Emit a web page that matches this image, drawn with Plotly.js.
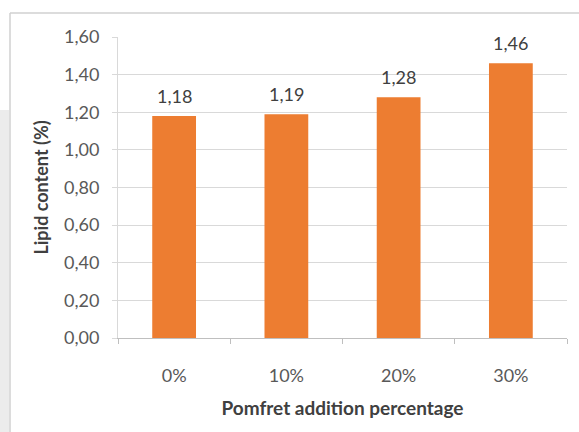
<!DOCTYPE html>
<html>
<head>
<meta charset="utf-8">
<script src="https://cdn.plot.ly/plotly-3.0.1.min.js"></script>
<style>
  html, body { margin: 0; padding: 0; background: #ffffff; }
  #chart { width: 579px; height: 432px; }
</style>
</head>
<body>
<div id="chart"></div>
<script>
// Lipid content of the product for each pomfret addition level
const categories = ['0%', '10%', '20%', '30%'];
const lipidValues = [1.18, 1.19, 1.28, 1.46];
const yTickValues = [0, 0.2, 0.4, 0.6, 0.8, 1.0, 1.2, 1.4, 1.6];

const W = 579, H = 432;
const M = { l: 118, r: 12, t: 37, b: 94 };
const pw = W - M.l - M.r, ph = H - M.t - M.b;
// convert pixel positions to paper coordinates for the outer frame
const px = x => (x - M.l) / pw;
const py = y => (H - M.b - y) / ph;

const FONT = 'Lato, "Liberation Sans", sans-serif';
const fmt = v => v.toFixed(2).replace('.', ',');

const trace = {
  type: 'bar',
  x: categories,
  y: lipidValues,
  marker: { color: '#ED7D31', line: { width: 0 } },
  hoverinfo: 'none'
};

// value labels above each bar
const valueLabels = categories.map((c, i) => ({
  x: c,
  y: lipidValues[i],
  xref: 'x', yref: 'y',
  text: fmt(lipidValues[i]),
  showarrow: false,
  yanchor: 'bottom',
  yshift: 7,
  font: { family: FONT, size: 18, color: '#404040' }
}));

const layout = {
  width: W, height: H,
  margin: M,
  separators: ', ',
  paper_bgcolor: '#ffffff',
  plot_bgcolor: '#ffffff',
  showlegend: false,
  bargap: 0.61,
  font: { family: FONT, color: '#595959' },
  xaxis: {
    type: 'category',
    showgrid: false,
    showline: true,
    linecolor: '#bfbfbf',
    linewidth: 1,
    ticks: 'outside',
    tickson: 'boundaries',
    ticklen: 5,
    tickcolor: '#bfbfbf',
    ticklabelstandoff: 21,
    tickfont: { size: 18, color: '#595959' },
    title: {
      text: '<b>Pomfret addition percentage</b>',
      font: { size: 19, color: '#404040' },
      standoff: 17
    },
    fixedrange: true
  },
  yaxis: {
    range: [0, 1.6],
    tickvals: yTickValues,
    tickformat: '.2f',
    showgrid: true,
    gridcolor: '#d9d9d9',
    gridwidth: 1,
    zeroline: false,
    showline: true,
    linecolor: '#d9d9d9',
    ticks: 'outside',
    ticklen: 5,
    tickcolor: '#d9d9d9',
    ticklabelstandoff: 9,
    tickfont: { size: 18, color: '#595959' },
    title: {
      text: '<b>Lipid content (%)</b>',
      font: { size: 18, color: '#404040' },
      standoff: 10
    },
    fixedrange: true
  },
  annotations: valueLabels,
  shapes: [
    // faint strip at the far left edge
    { type: 'rect', xref: 'paper', yref: 'paper',
      x0: px(0), x1: px(9), y0: py(432), y1: py(110),
      fillcolor: '#ececec', line: { width: 0 }, layer: 'below' },
    // chart area frame: top and left edges
    { type: 'line', xref: 'paper', yref: 'paper',
      x0: px(10), x1: px(579), y0: py(13), y1: py(13),
      line: { color: '#d0d0d0', width: 1.5 } },
    { type: 'line', xref: 'paper', yref: 'paper',
      x0: px(10), x1: px(10), y0: py(13), y1: py(432),
      line: { color: '#d0d0d0', width: 1.5 } }
  ]
};

Plotly.newPlot('chart', [trace], layout, { displayModeBar: false, staticPlot: true });
</script>
</body>
</html>
